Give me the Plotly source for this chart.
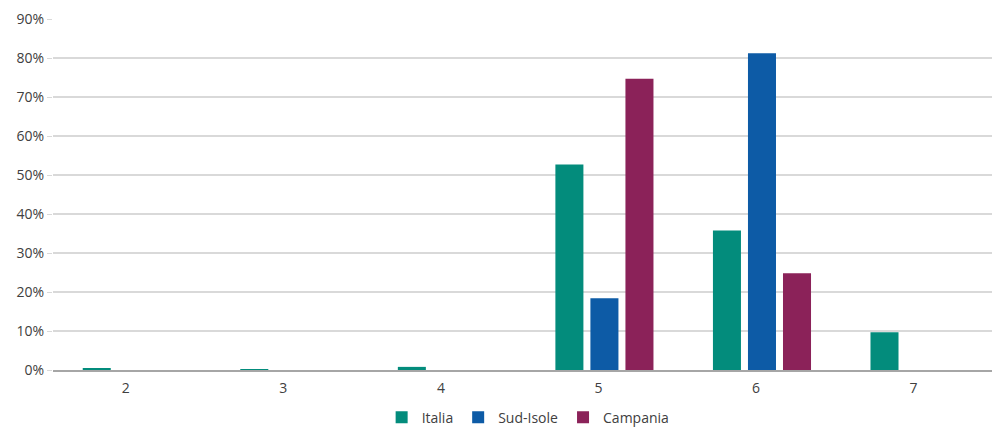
import plotly.graph_objects as go

categories = ["2", "3", "4", "5", "6", "7"]
italia = [0.4, 0.2, 0.8, 52.7, 35.8, 9.7]
sud_isole = [0, 0, 0, 18.4, 81.2, 0]
campania = [0, 0, 0, 74.7, 24.8, 0]
y_ticks = [0, 10, 20, 30, 40, 50, 60, 70, 80, 90]
y_tick_labels = [f"{v}%" for v in y_ticks]

colors = {"Italia": "#038C7C", "Sud-Isole": "#0D5BA6", "Campania": "#8B2259"}

fig = go.Figure()
for name, vals in [("Italia", italia), ("Sud-Isole", sud_isole), ("Campania", campania)]:
    fig.add_trace(go.Bar(x=categories, y=vals, name=name,
                         marker=dict(color=colors[name], line=dict(width=0))))

fig.update_layout(
    width=992, height=431,
    margin=dict(l=53, r=0, t=19, b=61, autoexpand=False),
    paper_bgcolor="white", plot_bgcolor="white",
    barmode="group", bargap=0.333, bargroupgap=0.2,
    font=dict(family="Open Sans", size=14, color="#404040"),
    legend=dict(orientation="h", x=0.506, xanchor="center", yref="paper",
                y=-0.09, yanchor="top", borderwidth=0,
                font=dict(size=14, color="#404040"), itemwidth=30),
    showlegend=True,
)
fig.update_xaxes(type="category", range=[-0.5, 5.46], showline=True,
                 linecolor="#A6A6A6", linewidth=2,
                 ticks="", showgrid=False, tickfont=dict(size=14),
                 ticklabelshift=-6, ticklabelstandoff=4)
fig.update_yaxes(range=[0, 90], tickvals=y_ticks, ticktext=y_tick_labels,
                 showgrid=True, gridcolor="#D9D9D9", gridwidth=1.5,
                 ticks="outside", ticklen=5, tickcolor="#D9D9D9",
                 showline=False, zeroline=False, tickfont=dict(size=14))

fig.write_html("out.html")
